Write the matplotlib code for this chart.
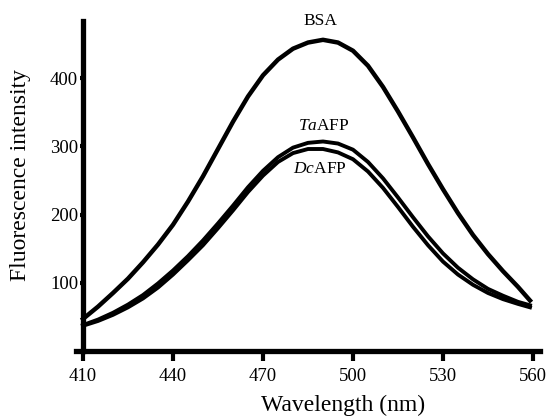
import numpy as np
import matplotlib
matplotlib.use('Agg')
import matplotlib.pyplot as plt

# Values (every 5 nm, last point at 559 nm)
wavelength = [410, 415, 420, 425, 430, 435, 440, 445, 450, 455, 460, 465,
              470, 475, 480, 485, 490, 495, 500, 505, 510, 515, 520, 525,
              530, 535, 540, 545, 550, 555, 559]
bsa = [47, 65, 85, 106, 130, 156, 185, 219, 256, 296, 336, 373,
       404, 427, 443, 452, 456, 452, 440, 418, 387, 351, 313, 274,
       237, 202, 170, 142, 117, 94, 74]
ta_afp = [38, 46, 56, 68, 82, 99, 118, 139, 162, 187, 213, 240,
          264, 284, 298, 305, 307, 304, 295, 277, 253, 225, 196, 168,
          143, 122, 105, 91, 81, 72, 67]
dc_afp = [37, 44, 53, 64, 77, 93, 112, 133, 155, 180, 206, 233,
          257, 277, 290, 296, 296, 291, 281, 263, 239, 211, 182, 155,
          131, 112, 97, 85, 76, 69, 64]
xticks = [410, 440, 470, 500, 530, 560]
yticks = [100, 200, 300, 400]

plt.rcParams['font.family'] = 'Liberation Serif'
plt.rcParams['mathtext.fontset'] = 'custom'
plt.rcParams['mathtext.rm'] = 'Liberation Serif'
plt.rcParams['mathtext.it'] = 'Liberation Serif:italic'

fig = plt.figure(figsize=(5.46, 4.17), dpi=100)
ax = fig.add_axes([0.1383, 0.1583, 0.8516, 0.7904])

ax.plot(wavelength, bsa, color='black', lw=3.2, solid_joinstyle='round')
ax.plot(wavelength, ta_afp, color='black', lw=2.8, solid_joinstyle='round')
ax.plot(wavelength, dc_afp, color='black', lw=2.8, solid_joinstyle='round')

ax.text(489, 478, 'BSA', ha='center', va='baseline', fontsize=12.5)
ax.text(490.3, 324, r'$\mathit{Ta}$AFP', ha='center', va='baseline', fontsize=12.5)
ax.text(489, 261, r'$\mathit{Dc}$AFP', ha='center', va='baseline', fontsize=12.5)

ax.set_xlim(407.5, 562.5)
ax.set_ylim(0, 483)
ax.spines['top'].set_visible(False)
ax.spines['right'].set_visible(False)
ax.spines['left'].set_position(('data', 410))
ax.spines['left'].set_linewidth(3.8)
ax.spines['bottom'].set_linewidth(3.8)

ax.set_xticks(xticks)
ax.set_yticks(yticks)
ax.tick_params(axis='x', direction='out', length=7, width=3, pad=5, labelsize=13.5)
ax.tick_params(axis='y', direction='out', length=2.5, width=3, pad=1, labelsize=13.5)

ax.set_xlabel('Wavelength (nm)', fontsize=17)
ax.xaxis.set_label_coords(0.575, -0.132)
ax.set_ylabel('Fluorescence intensity', fontsize=17)
ax.yaxis.set_label_coords(-0.095, 0.534)

fig.savefig('out.png', dpi=100)
